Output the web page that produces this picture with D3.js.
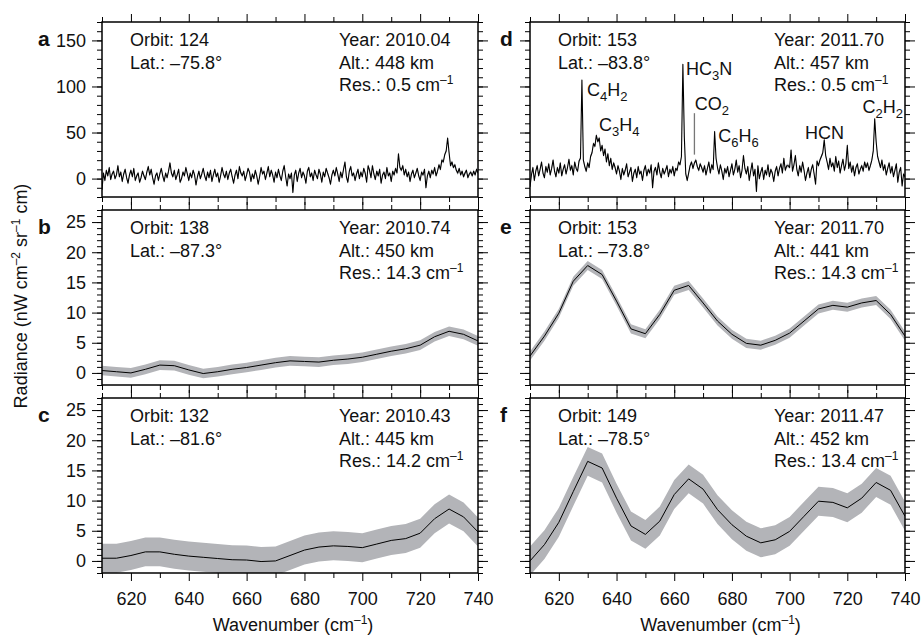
<!DOCTYPE html>
<html>
<head>
<meta charset="utf-8">
<script src="https://cdn.jsdelivr.net/npm/d3@7"></script>
<style>
body { margin: 0; background: #fff; }
text { font-family: "Liberation Sans", Arial, Helvetica, sans-serif; fill: #111; }
</style>
</head>
<body>
<div id="chart"></div>
<script>
// ---- data ----
var panelIds    = ['a', 'b', 'c', 'd', 'e', 'f'];
var orbits      = [124, 138, 132, 153, 153, 149];
var lats        = ['–75.8°', '–87.3°', '–81.6°', '–83.8°', '–73.8°', '–78.5°'];
var years       = ['2010.04', '2010.74', '2010.43', '2011.70', '2011.70', '2011.47'];
var alts        = [448, 450, 445, 457, 441, 452];
var resolutions = ['0.5', '14.3', '14.2', '0.5', '14.3', '13.4'];

// high resolution spectra (0.5 cm-1 steps from 610)
var specStart = 610, specStep = 0.5;
var spectrumA = [
  -12, 6, -2, 9, 3, 12, -1, 5, 8, 0, 4, 14, 2, 7, -3, 5, 10, 1, -5, 4,
  9, 2, 11, -2, 3, 6, -4, 1, 8, 3, -1, 7, 13, 4, 10, 1, -6, 3, 6, -2,
  5, 11, 3, -3, 6, 1, 8, 17, 6, 2, 9, -1, 4, 10, -4, 0, 7, 3, 12, 5,
  -2, 6, 1, 9, 4, -7, 2, 8, 0, 5, 11, 3, -2, 7, 1, 9, -3, 4, 10, 2,
  6, -4, 3, 12, 5, 1, 8, -1, 6, 10, 2, -5, 4, 9, 0, 13, 6, 3, 8, -2,
  4, 11, 7, -3, 5, 0, 9, 3, -6, 2, 12, 5, 8, -1, 6, 13, 2, 9, 4, -4,
  7, 1, 10, 3, -2, 8, 14, 2, -8, 5, 0, 6, -15, 4, 9, -3, 6, 11, 1, 7,
  3, -5, 8, 12, 2, 6, -2, 9, 4, 0, 10, 5, -4, 7, 2, 11, 6, 1, -6, 4,
  9, 3, 12, 5, -3, 7, 1, 10, 18, 2, -4, 8, 13, 3, 6, -2, 5, 10, 0, 7,
  2, 11, 6, -4, 14, 9, 1, 14, 5, -1, 8, 3, 10, -5, 4, 7, 0, 12, 3, 6,
  -3, 8, 4, 11, 6, 27, 12, 9, 14, 4, 10, 2, 7, -3, 5, 9, 1, 6, 11, 3,
  -2, 7, 4, 10, -10, 3, 8, 1, 9, 5, 12, 3, 8, 15, 10, 20, 18, 26, 30, 44,
  28, 14, 18, 12, 15, 9, 6, 11, 4, 8, 2, 6, 9, 1, 5, 7, 3, 8, 4, 10,
  6
];
var spectrumD = [
  -9, 4, 12, -2, 8, 14, 3, 10, 18, 6, 1, 13, 7, 16, 4, 11, 20, 8, 2, 12,
  6, 17, 3, 10, 15, 5, 12, 21, 9, 14, 4, 18, 11, 8, 19, 22, 107, 20, 13, 8,
  17, 12, 24, 28, 38, 35, 47, 40, 44, 30, 36, 25, 32, 18, 27, 14, 22, 10, 17, 12,
  5, 14, 8, -1, 11, 4, 9, 16, 2, 7, 12, -3, 6, 10, 1, 13, 5, 8, -2, 9,
  14, 3, 10, 6, 15, -10, 8, 12, 4, 17, 7, 1, 11, 5, 9, 14, 2, 10, 6, 13,
  3, 11, 9, 18, 15, 24, 124, 45, 5, -2, 6, 14, 18, 11, 17, 20, 13, 9, 16, 12,
  7, 14, 4, 11, 18, 6, 15, 10, 51, 22, 12, 5, 15, 8, -1, 11, 6, 13, 2, 9,
  16, 4, 10, 20, 7, 14, 1, 9, 25, 11, 5, 13, -2, 8, 17, 3, 10, -14, 14, 0,
  7, 12, -1, 9, 4, 15, 2, 10, 6, -3, 8, 13, 3, 11, 16, 6, 22, 9, 14, 14,
  12, 31, 8, 15, 25, 10, 3, 14, 7, 18, 9, -2, 6, 12, 1, 10, 15, 5, -6, 19,
  14, 20, 24, 28, 42, 25, 18, 10, 22, 13, 17, 8, 24, 12, 19, 6, 14, 21, 9, 16,
  36, 11, 18, 7, 14, 3, 12, 16, 5, 10, 14, 8, 18, 12, 17, 9, 14, 20, 30, 65,
  40, 24, 18, 12, 20, 9, 15, 4, 11, 17, 6, 13, 2, 9, 16, -4, 7, 12, -8, 5,
  2
];
var spectrumErr = 2;

// low resolution spectra (5 cm-1 steps)
var waveLow = [610, 615, 620, 625, 630, 635, 640, 645, 650, 655, 660, 665, 670, 675,
               680, 685, 690, 695, 700, 705, 710, 715, 720, 725, 730, 735, 740];
var spectrumB = [0.4, 0.2, 0.0, 0.6, 1.3, 1.2, 0.5, -0.1, 0.2, 0.6, 0.9, 1.3, 1.7, 2.0,
                 1.9, 1.8, 2.1, 2.3, 2.6, 3.1, 3.6, 4.0, 4.6, 6.0, 6.9, 6.4, 5.3];
var spectrumC = [0.45, 0.45, 0.9, 1.5, 1.5, 1.1, 0.8, 0.6, 0.4, 0.2, 0.15, -0.1, 0.0, 0.9,
                 1.8, 2.3, 2.5, 2.4, 2.2, 2.8, 3.4, 3.7, 4.6, 7.0, 8.6, 7.3, 4.8];
var spectrumE = [2.8, 6.1, 9.9, 15.2, 17.8, 16.3, 11.9, 7.3, 6.5, 9.7, 13.7, 14.5, 11.6, 8.6,
                 6.4, 4.9, 4.6, 5.4, 6.6, 8.6, 10.6, 11.2, 10.9, 11.6, 12.0, 9.7, 6.1];
var spectrumF = [0.0, 2.7, 6.4, 11.5, 16.5, 15.4, 10.4, 5.8, 4.4, 6.6, 11.0, 13.6, 11.9, 8.5,
                 6.0, 4.1, 3.0, 3.5, 4.9, 7.4, 9.9, 9.7, 8.8, 10.4, 13.0, 11.7, 7.4];
var errB = 0.8, errC = 2.4, errE = 0.75, errF = 2.4;

// molecule labels in panel d (wavenumber, radiance of label)
var molecules  = ['C_{4}H_{2}', 'C_{3}H_{4}', 'HC_{3}N', 'CO_{2}', 'C_{6}H_{6}', 'HCN', 'C_{2}H_{2}'];
var moleculeX  = [629.8, 633.9, 664.1, 667.1, 675.3, 705.3, 725.3];
var moleculeY  = [89.5, 51.2, 112.2, 74.4, 40.2, 42.8, 70.9];
var co2Marker  = {wn: 667, from: 26, to: 71};

// ticks
var xMajor = [620, 640, 660, 680, 700, 720, 740];
var xMinor = [610, 630, 650, 670, 690, 710, 730];
var yMajorHi = [0, 50, 100, 150];
var yMajorLo = [0, 5, 10, 15, 20, 25];

// ---- layout ----
var width = 922, height = 635;
var cols = [[102, 478], [530, 905]];
var rows = [[22, 197], [210, 385], [398, 573]];
var textRight = [339, 774];
var bandColor = '#b3b4b8';

var svg = d3.select('#chart').append('svg')
  .attr('width', width)
  .attr('height', height);

function rich(t, s) {
  var shift = 0;
  s.split(/(\^\{[^}]*\}|_\{[^}]*\})/).forEach(function(p) {
    if (!p) return;
    var sup = p[0] === '^', sub = p[0] === '_';
    var dy = sup ? -7 : (sub ? 5 : 0);
    var ts = t.append('tspan').attr('dy', dy - shift).text(sup || sub ? p.slice(2, -1) : p);
    if (sup || sub) ts.attr('font-size', sup ? 12 : 13);
    shift = dy;
  });
}

var hiRes = function(arr) {
  return arr.map(function(v, i) { return {x: specStart + i * specStep, y: v, e: spectrumErr}; });
};
var loRes = function(arr, err) {
  return arr.map(function(v, i) { return {x: waveLow[i], y: v, e: err}; });
};

var panels = [
  {col: 0, row: 0, hi: true, data: hiRes(spectrumA)},
  {col: 0, row: 1, hi: false, data: loRes(spectrumB, errB)},
  {col: 0, row: 2, hi: false, data: loRes(spectrumC, errC)},
  {col: 1, row: 0, hi: true, data: hiRes(spectrumD)},
  {col: 1, row: 1, hi: false, data: loRes(spectrumE, errE)},
  {col: 1, row: 2, hi: false, data: loRes(spectrumF, errF)}
];

panels.forEach(function(p, k) {
  var x0 = cols[p.col][0], x1 = cols[p.col][1];
  var y0 = rows[p.row][0], y1 = rows[p.row][1];
  var x = d3.scaleLinear().domain([610, 740]).range([x0, x1]);
  var y = d3.scaleLinear().domain(p.hi ? [-20, 170] : [-2, 27]).range([y1, y0]);

  var clipId = 'clip' + k;
  svg.append('clipPath').attr('id', clipId)
    .append('rect').attr('x', x0).attr('y', y0).attr('width', x1 - x0).attr('height', y1 - y0);

  var g = svg.append('g').attr('clip-path', 'url(#' + clipId + ')');

  var area = d3.area()
    .x(function(d) { return x(d.x); })
    .y0(function(d) { return y(d.y - d.e); })
    .y1(function(d) { return y(d.y + d.e); });
  var line = d3.line()
    .x(function(d) { return x(d.x); })
    .y(function(d) { return y(d.y); });

  g.append('path').datum(p.data).attr('d', area).attr('fill', bandColor);
  g.append('path').datum(p.data).attr('d', line)
    .attr('fill', 'none').attr('stroke', '#000').attr('stroke-width', p.hi ? 1.1 : 1)
    .attr('stroke-linejoin', 'round');

  // axes / ticks
  var yMinor = p.hi ? d3.range(-20, 171, 10) : d3.range(-2, 28, 1);
  var yMajor = p.hi ? yMajorHi : yMajorLo;
  var fmt = p.col === 0 ? d3.format('d') : function() { return ''; };

  function addAxis(axis, tr) {
    var a = svg.append('g').attr('transform', tr).call(axis);
    a.select('.domain').remove();
    a.selectAll('line').attr('stroke', '#000').attr('stroke-width', 1);
    a.selectAll('text').attr('font-size', 18).attr('font-family', '"Liberation Sans", Arial, sans-serif').attr('fill', '#111');
    return a;
  }
  addAxis(d3.axisLeft(y).tickValues(yMinor).tickSize(5).tickFormat(''), 'translate(' + x0 + ',0)');
  addAxis(d3.axisLeft(y).tickValues(yMajor).tickSize(10).tickPadding(6).tickFormat(fmt), 'translate(' + x0 + ',0)');
  addAxis(d3.axisRight(y).tickValues(yMinor).tickSize(5).tickFormat(''), 'translate(' + x1 + ',0)');
  addAxis(d3.axisRight(y).tickValues(yMajor).tickSize(10).tickFormat(''), 'translate(' + x1 + ',0)');
  addAxis(d3.axisTop(x).tickValues(xMinor).tickSize(5).tickFormat(''), 'translate(0,' + y0 + ')');
  addAxis(d3.axisTop(x).tickValues(xMajor).tickSize(8).tickFormat(''), 'translate(0,' + y0 + ')');
  addAxis(d3.axisBottom(x).tickValues(xMinor).tickSize(5).tickFormat(''), 'translate(0,' + y1 + ')');
  addAxis(d3.axisBottom(x).tickValues(xMajor).tickSize(8).tickPadding(11)
    .tickFormat(p.row === 2 ? d3.format('d') : ''), 'translate(0,' + y1 + ')');

  svg.append('rect')
    .attr('x', x0).attr('y', y0).attr('width', x1 - x0).attr('height', y1 - y0)
    .attr('fill', 'none').attr('stroke', '#000').attr('stroke-width', 1.5);

  // panel letter
  svg.append('text')
    .attr('x', p.col === 0 ? x0 - 64 : x0 - 30).attr('y', y0 + 24)
    .attr('font-size', 21).attr('font-weight', 'bold')
    .text(panelIds[k]);

  // info text
  var lh = 22.5;
  svg.append('text').attr('x', x0 + 28).attr('y', y0 + 24).attr('font-size', 18).text('Orbit: ' + orbits[k]);
  svg.append('text').attr('x', x0 + 28).attr('y', y0 + 24 + lh).attr('font-size', 18).text('Lat.: ' + lats[k]);
  var tx = textRight[p.col];
  svg.append('text').attr('x', tx).attr('y', y0 + 24).attr('font-size', 18).text('Year: ' + years[k]);
  svg.append('text').attr('x', tx).attr('y', y0 + 24 + lh).attr('font-size', 18).text('Alt.: ' + alts[k] + ' km');
  rich(svg.append('text').attr('x', tx).attr('y', y0 + 24 + 2 * lh).attr('font-size', 18),
       'Res.: ' + resolutions[k] + ' cm^{–1}');

  if (p.row === 2) {
    rich(svg.append('text').attr('x', (x0 + x1) / 2 + 3).attr('y', 631)
      .attr('font-size', 18).attr('text-anchor', 'middle'), 'Wavenumber (cm^{–1})');
  }

  if (panelIds[k] === 'd') {
    svg.append('line')
      .attr('x1', x(co2Marker.wn)).attr('x2', x(co2Marker.wn))
      .attr('y1', y(co2Marker.from)).attr('y2', y(co2Marker.to))
      .attr('stroke', '#777').attr('stroke-width', 1.3);
    molecules.forEach(function(m, i) {
      rich(svg.append('text').attr('x', x(moleculeX[i])).attr('y', y(moleculeY[i]))
        .attr('font-size', 18), m);
    });
  }
});

// y axis title
rich(svg.append('text')
  .attr('transform', 'translate(27,296) rotate(-90)')
  .attr('text-anchor', 'middle').attr('font-size', 18),
  'Radiance (nW cm^{–2} sr^{–1} cm)');
</script>
</body>
</html>
